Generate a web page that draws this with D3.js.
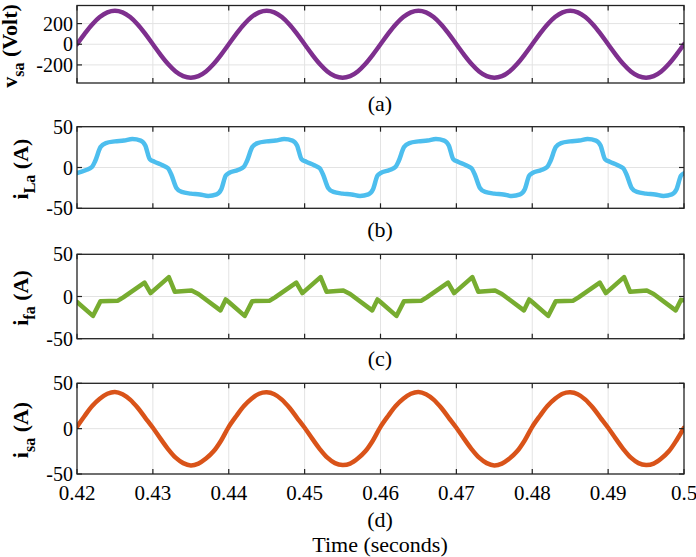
<!DOCTYPE html>
<html>
<head>
<meta charset="utf-8">
<script src="https://cdn.jsdelivr.net/npm/d3@7"></script>
<style>
  body { margin: 0; background: #fff; }
  svg { display: block; font-family: "Liberation Serif", "Times New Roman", serif; }
</style>
</head>
<body>
<svg id="chart" width="696" height="557"></svg>
<script>
// time grid for the two sinusoidal traces (s)
const tSine = [0.420,0.421,0.422,0.423,0.424,0.425,0.426,0.427,0.428,0.429,
  0.430,0.431,0.432,0.433,0.434,0.435,0.436,0.437,0.438,0.439,
  0.440,0.441,0.442,0.443,0.444,0.445,0.446,0.447,0.448,0.449,
  0.450,0.451,0.452,0.453,0.454,0.455,0.456,0.457,0.458,0.459,
  0.460,0.461,0.462,0.463,0.464,0.465,0.466,0.467,0.468,0.469,
  0.470,0.471,0.472,0.473,0.474,0.475,0.476,0.477,0.478,0.479,
  0.480,0.481,0.482,0.483,0.484,0.485,0.486,0.487,0.488,0.489,
  0.490,0.491,0.492,0.493,0.494,0.495,0.496,0.497,0.498,0.499,0.500];

// (a) source voltage v_sa (V)
const vSa = [0,100,191,263,309,325,309,263,191,100,
  0,-100,-191,-263,-309,-325,-309,-263,-191,-100,
  0,100,191,263,309,325,309,263,191,100,
  0,-100,-191,-263,-309,-325,-309,-263,-191,-100,
  0,100,191,263,309,325,309,263,191,100,
  0,-100,-191,-263,-309,-325,-309,-263,-191,-100,
  0,100,191,263,309,325,309,263,191,100,
  0,-100,-191,-263,-309,-325,-309,-263,-191,-100,0];

// (d) source current i_sa (A)
const iSa = [2,14,25,33,38.5,40.5,38,32,23,12,
  1,-11,-22.5,-32,-38,-40.5,-38.5,-33,-25,-13,
  2,14,25,33,38.5,40,38,32,23,12,
  1,-11,-22.5,-32,-38,-40,-38.5,-33,-25,-13,
  2,14,25,33,38.5,40.5,38,32,23,12,
  1,-11,-22.5,-32,-38,-40.5,-38.5,-33,-25,-13,
  2,14,25,33,38.5,40,38,32,23,12,
  1,-11,-22.5,-32,-38,-40,-38.5,-33,-25,-13,1];

// (b) load current i_La
const tLa = [0.4200,0.4212,0.4220,0.4224,0.4231,0.4238,0.4250,0.4262,0.4273,0.4284,0.4290,0.4296,
  0.4302,0.4312,0.4320,0.4324,0.4331,0.4338,0.4350,0.4362,0.4373,0.4384,0.4390,0.4396,
  0.4400,0.4412,0.4420,0.4424,0.4431,0.4438,0.4450,0.4462,0.4473,0.4484,0.4490,0.4496,
  0.4502,0.4512,0.4520,0.4524,0.4531,0.4538,0.4550,0.4562,0.4573,0.4584,0.4590,0.4596,
  0.4600,0.4612,0.4620,0.4624,0.4631,0.4638,0.4650,0.4662,0.4673,0.4684,0.4690,0.4696,
  0.4702,0.4712,0.4720,0.4724,0.4731,0.4738,0.4750,0.4762,0.4773,0.4784,0.4790,0.4796,
  0.4800,0.4812,0.4820,0.4824,0.4831,0.4838,0.4850,0.4862,0.4873,0.4884,0.4890,0.4896,
  0.4902,0.4912,0.4920,0.4924,0.4931,0.4938,0.4950,0.4962,0.4973,0.4984,0.4990,0.4996,0.5000];
const iLa = [-7,-3,1,8,25,30,32,33,35,33,27,10,
  7,3,-1,-8,-25,-30,-32,-33,-35,-33,-27,-10,
  -7,-3,1,8,25,30,32,33,35,33,27,10,
  7,3,-1,-8,-25,-30,-32,-33,-35,-33,-27,-10,
  -7,-3,1,8,25,30,32,33,35,33,27,10,
  7,3,-1,-8,-25,-30,-32,-33,-35,-33,-27,-10,
  -7,-3,1,8,25,30,32,33,35,33,27,10,
  7,3,-1,-8,-25,-30,-32,-33,-35,-33,-27,-10,-7];

// (c) filter current i_fa
const tFa = [0.4200,0.4221,0.4231,0.4254,0.4261,0.4289,0.4297,0.4321,0.4329,0.4351,0.4360,0.4389,0.4396,
  0.4400,0.4421,0.4431,0.4454,0.4461,0.4489,0.4497,0.4521,0.4529,0.4551,0.4560,0.4589,0.4596,
  0.4600,0.4621,0.4631,0.4654,0.4661,0.4689,0.4697,0.4721,0.4729,0.4751,0.4760,0.4789,0.4796,
  0.4800,0.4821,0.4831,0.4854,0.4861,0.4889,0.4897,0.4921,0.4929,0.4951,0.4960,0.4989,0.4996,0.5000];
const iFa = [-6.5,-23,-5.5,-5,-1,16.5,4,23,5.5,7,3,-16.5,-3.5,
  -6.5,-23,-5.5,-5,-1,16.5,4,23,5.5,7,3,-16.5,-3.5,
  -6.5,-23,-5.5,-5,-1,16.5,4,23,5.5,7,3,-16.5,-3.5,
  -6.5,-23,-5.5,-5,-1,16.5,4,23,5.5,7,3,-16.5,-4,-4.5];

const xTicks = [0.42,0.43,0.44,0.45,0.46,0.47,0.48,0.49,0.5];
const xTickLabels = ["0.42","0.43","0.44","0.45","0.46","0.47","0.48","0.49","0.5"];
const vTicks = [-200,0,200];
const iTicks = [-50,0,50];

const svg = d3.select('#chart');
const x = d3.scaleLinear().domain([0.42, 0.5]).range([77, 684]);

const panels = [
  { t: tSine, y: vSa, top: 5.5, bottom: 83, dom: [-375,375], ticks: vTicks, color: '#7E2F8E',
    main: 'v', sub: 'sa', unit: ' (Volt)', labX: 17, labY: 46, tag: '(a)', tagY: 111, curve: d3.curveCatmullRom },
  { t: tLa, y: iLa, top: 126.7, bottom: 208.3, dom: [-50,50], ticks: iTicks, color: '#4DBEEE',
    main: 'i', sub: 'La', unit: ' (A)', labX: 28, labY: 169, tag: '(b)', tagY: 237, curve: d3.curveMonotoneX },
  { t: tFa, y: iFa, top: 254.3, bottom: 338.7, dom: [-50,50], ticks: iTicks, color: '#77AC30',
    main: 'i', sub: 'fa', unit: ' (A)', labX: 28, labY: 298, tag: '(c)', tagY: 366, curve: d3.curveLinear },
  { t: tSine, y: iSa, top: 383.3, bottom: 474, dom: [-50,50], ticks: iTicks, color: '#D95319',
    main: 'i', sub: 'sa', unit: ' (A)', labX: 28, labY: 430, tag: '(d)', tagY: 527, curve: d3.curveCatmullRom }
];

const x0 = x.range()[0], x1 = x.range()[1];

panels.forEach((p, k) => {
  const y = d3.scaleLinear().domain(p.dom).range([p.bottom, p.top]);
  const g = svg.append('g');

  // grid
  g.selectAll('.gx').data(xTicks.slice(1, -1)).join('line')
    .attr('x1', d => x(d)).attr('x2', d => x(d))
    .attr('y1', p.top).attr('y2', p.bottom)
    .attr('stroke', '#e3e3e3').attr('stroke-width', 1);
  g.selectAll('.gy').data(p.ticks.filter(d => d > p.dom[0] && d < p.dom[1])).join('line')
    .attr('x1', x0).attr('x2', x1)
    .attr('y1', d => y(d)).attr('y2', d => y(d))
    .attr('stroke', '#e3e3e3').attr('stroke-width', 1);

  // trace
  const clipId = 'clip' + k;
  svg.append('clipPath').attr('id', clipId).append('rect')
    .attr('x', x0).attr('y', p.top - 3).attr('width', x1 - x0).attr('height', p.bottom - p.top + 6);
  g.append('path')
    .datum(p.t.map((t, i) => [t, p.y[i]]))
    .attr('clip-path', `url(#${clipId})`)
    .attr('fill', 'none').attr('stroke', p.color).attr('stroke-width', 4.5)
    .attr('stroke-linejoin', 'round').attr('stroke-linecap', 'round')
    .attr('d', d3.line().x(d => x(d[0])).y(d => y(d[1])).curve(p.curve));

  // inward ticks, all four sides
  const tl = 5;
  xTicks.forEach(v => {
    g.append('line').attr('x1', x(v)).attr('x2', x(v)).attr('y1', p.bottom).attr('y2', p.bottom - tl)
      .attr('stroke', '#222').attr('stroke-width', 1.2);
    g.append('line').attr('x1', x(v)).attr('x2', x(v)).attr('y1', p.top).attr('y2', p.top + tl)
      .attr('stroke', '#222').attr('stroke-width', 1.2);
  });
  p.ticks.forEach(v => {
    g.append('line').attr('x1', x0).attr('x2', x0 + tl).attr('y1', y(v)).attr('y2', y(v))
      .attr('stroke', '#222').attr('stroke-width', 1.2);
    g.append('line').attr('x1', x1).attr('x2', x1 - tl).attr('y1', y(v)).attr('y2', y(v))
      .attr('stroke', '#222').attr('stroke-width', 1.2);
  });

  // frame
  g.append('rect').attr('x', x0).attr('y', p.top).attr('width', x1 - x0).attr('height', p.bottom - p.top)
    .attr('fill', 'none').attr('stroke', '#222').attr('stroke-width', 1.3);

  // y tick labels
  g.selectAll('.yl').data(p.ticks).join('text')
    .attr('x', 73).attr('y', d => y(d)).attr('dy', '0.35em')
    .attr('text-anchor', 'end').attr('font-size', 20).attr('fill', '#000')
    .text(d => d);

  // y label with subscript
  const lab = g.append('text')
    .attr('transform', `translate(${p.labX},${p.labY}) rotate(-90)`)
    .attr('text-anchor', 'middle').attr('font-size', 22).attr('font-weight', 'bold');
  lab.append('tspan').text(p.main);
  lab.append('tspan').attr('font-size', 16).attr('dy', 7).text(p.sub);
  lab.append('tspan').attr('dy', -7).text(p.unit);

  // panel tag
  svg.append('text').attr('x', 380).attr('y', p.tagY)
    .attr('text-anchor', 'middle').attr('font-size', 22).text(p.tag);
});

// x tick labels under the last panel
svg.selectAll('.xl').data(xTicks).join('text')
  .attr('x', d => x(d)).attr('y', 500)
  .attr('text-anchor', 'middle').attr('font-size', 21)
  .text((d, i) => xTickLabels[i]);

svg.append('text').attr('x', 380).attr('y', 552)
  .attr('text-anchor', 'middle').attr('font-size', 22).text('Time (seconds)');
</script>
</body>
</html>
